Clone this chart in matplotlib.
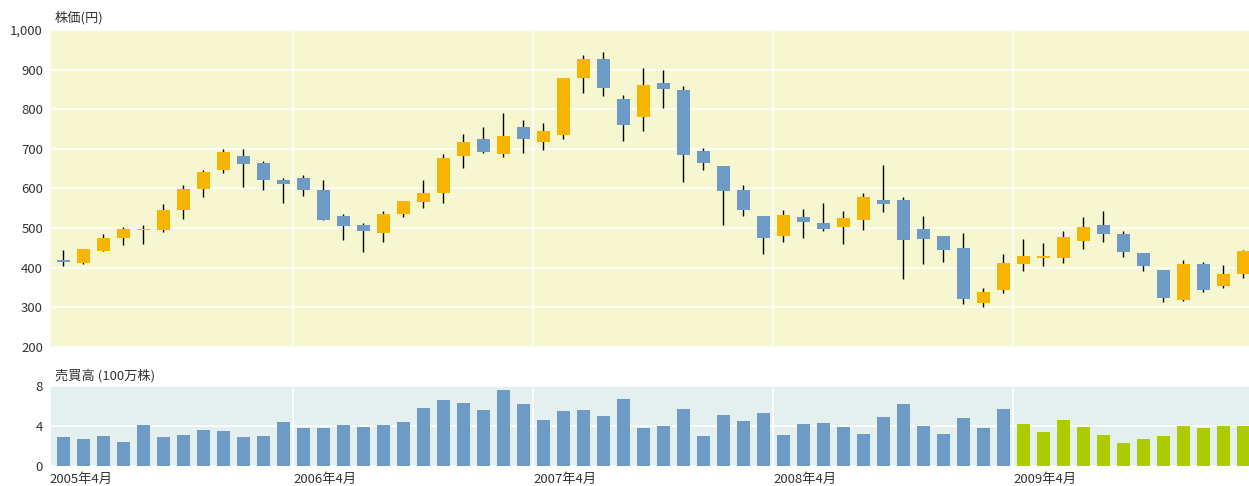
import matplotlib.pyplot as plt
from matplotlib.ticker import FuncFormatter

plt.rcParams['font.family'] = ['Noto Sans CJK JP', 'DejaVu Sans']

# 月次データ 2005年4月 - 2010年3月
months = list(range(60))
opens = [419, 411, 442, 475, 495, 495, 545, 598, 646, 682,
         664, 621, 626, 596, 530, 507, 487, 535, 566, 588,
         682, 725, 687, 755, 717, 735, 879, 927, 826, 780,
         866, 848, 694, 656, 596, 530, 480, 528, 512, 502,
         520, 571, 571, 497, 480, 449, 310, 343, 409, 424,
         424, 467, 507, 485, 437, 394, 318, 409, 353, 384]
closes = [415, 448, 475, 497, 497, 545, 598, 641, 692, 661,
          621, 611, 596, 520, 505, 492, 535, 568, 588, 677,
          717, 692, 732, 725, 745, 879, 927, 854, 760, 861,
          851, 684, 664, 593, 545, 475, 533, 515, 497, 525,
          578, 560, 470, 472, 444, 320, 338, 411, 429, 429,
          477, 502, 485, 439, 404, 323, 409, 343, 384, 442]
highs = [444, 448, 485, 502, 507, 560, 608, 646, 699, 699,
         669, 626, 634, 621, 535, 512, 543, 568, 621, 687,
         737, 755, 790, 773, 765, 879, 937, 944, 836, 904,
         899, 859, 702, 656, 608, 530, 545, 548, 563, 543,
         588, 659, 578, 530, 480, 488, 348, 434, 472, 462,
         492, 528, 543, 492, 437, 394, 419, 414, 406, 444]
lows = [405, 409, 442, 457, 459, 490, 522, 578, 639, 603,
        596, 563, 581, 520, 470, 439, 464, 528, 550, 563,
        651, 689, 679, 689, 697, 725, 841, 833, 720, 745,
        803, 616, 646, 507, 530, 434, 464, 475, 492, 459,
        495, 540, 371, 409, 414, 308, 300, 336, 391, 404,
        411, 447, 464, 427, 391, 313, 315, 339, 348, 374]
volume = [2.92, 2.72, 3.03, 2.42, 4.13, 2.92, 3.13, 3.63, 3.53, 2.92,
          3.03, 4.44, 3.83, 3.83, 4.13, 3.93, 4.13, 4.44, 5.75, 6.55,
          6.25, 5.55, 7.56, 6.15, 4.64, 5.45, 5.55, 5.04, 6.66, 3.83,
          4.03, 5.65, 3.03, 5.14, 4.54, 5.34, 3.13, 4.24, 4.34, 3.93,
          3.23, 4.94, 6.15, 4.03, 3.23, 4.84, 3.83, 5.65, 4.24, 3.43,
          4.64, 3.93, 3.13, 2.32, 2.72, 3.03, 4.03, 3.83, 4.03, 4.03]
highlight_start = 48  # 2009年4月以降
tick_pos = [-0.665, 11.5, 23.5, 35.5, 47.5]
tick_labels = ["2005年4月", "2006年4月", "2007年4月", "2008年4月", "2009年4月"]

up_color = "#F7B500"
down_color = "#6E9BC6"
hl_color = "#ADCC00"
text_color = "#333333"

fig = plt.figure(figsize=(12.49, 4.86), dpi=100)
ax1 = fig.add_axes([0.0400, 0.286, 0.9600, 0.6523])
ax2 = fig.add_axes([0.0400, 0.0412, 0.9600, 0.1646])

# ローソク足
bottoms = [min(o, c) for o, c in zip(opens, closes)]
heights = [max(abs(c - o), 0.8) for o, c in zip(opens, closes)]
colors = [up_color if c >= o else down_color for o, c in zip(opens, closes)]
ax1.vlines(months, lows, highs, color="black", linewidth=1, zorder=2)
ax1.bar(months, heights, bottom=bottoms, width=0.65, color=colors, zorder=3)
ax1.set_facecolor("#F6F6D1")
ax1.set_ylim(200, 1000)
ax1.set_yticks(range(200, 1001, 100))
ax1.yaxis.set_major_formatter(FuncFormatter(lambda v, p: f"{int(v):,}"))

# 売買高
vol_colors = [hl_color if m >= highlight_start else down_color for m in months]
ax2.bar(months, volume, width=0.65, color=vol_colors, zorder=3)
ax2.set_facecolor("#E3F0EF")
ax2.set_ylim(0, 8)
ax2.set_yticks([0, 4, 8])

for ax in (ax1, ax2):
    ax.set_xlim(-0.665, 59.29)
    ax.set_xticks(tick_pos)
    ax.grid(color="white", linewidth=1.1)
    ax.set_axisbelow(True)
    ax.tick_params(length=0, labelsize=9.5, labelcolor=text_color, pad=5)
    for s in ax.spines.values():
        s.set_visible(False)

ax1.set_xticklabels([])
ax2.set_xticklabels(tick_labels, ha="left")
ax2.tick_params(axis="x", pad=5)

fig.text(0.044, 0.963, "株価(円)", fontsize=9.5, color=text_color, va="center")
fig.text(0.044, 0.227, "売買高 (100万株)", fontsize=9.5, color=text_color, va="center")

plt.savefig("out.png", dpi=100)
